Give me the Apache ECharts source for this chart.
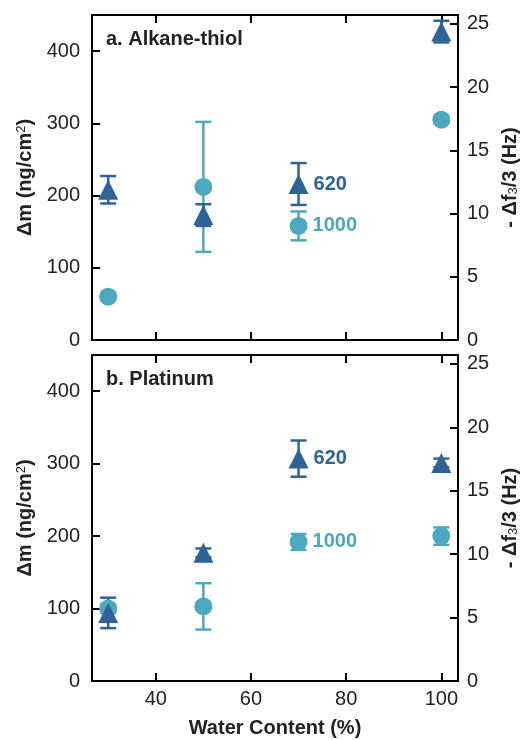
<!DOCTYPE html>
<html>
<head>
<meta charset="utf-8">
<script src="https://cdn.jsdelivr.net/npm/echarts@6/dist/echarts.min.js"></script>
<style>html,body{margin:0;padding:0;background:#fff}#c{width:531px;height:740px}</style>
</head>
<body>
<div id="c"></div>
<script>
// ---- data ----
const waterContent = [30, 50, 70, 100];
const seriesNames = ['620', '1000'];
const panelTitles = ['a. Alkane-thiol', 'b. Platinum'];
// panel a: Alkane-thiol
const a620 = [208, 173, 216, 427];
const a620Err = [19, 15, 29, 15];
const a1000 = [60, 212, 158, 305];
const a1000Err = [5, 90, 20, 5];
// panel b: Platinum
const b620 = [94, 177, 307, 301];
const b620Err = [21, 6, 25, 6];
const b1000 = [100, 103, 192, 200];
const b1000Err = [6, 32, 11, 12];
// axis ticks
const xTicks = [40, 60, 80, 100];
const massTicks = [0, 100, 200, 300, 400];
const freqTicks = [0, 5, 10, 15, 20, 25];
const xRange = [26.6, 103.5];
const massRange = [0, 450];
const freqRange = [0, 25.7];

const DARK = '#2e6399';
const LIGHT = '#4aa8bf';
const FONT = 'Liberation Sans, Arial, sans-serif';

const chart = echarts.init(document.getElementById('c'), null, {renderer: 'canvas'});

const grids = [
  {left: 92, top: 15, width: 366, height: 325},
  {left: 92, top: 355, width: 366, height: 326}
];

function xAxes(gi, isBottomPanel) {
  const common = {
    type: 'value', gridIndex: gi, min: xRange[0], max: xRange[1],
    splitLine: {show: false},
    axisLine: {show: true, onZero: false, lineStyle: {color: '#000', width: 2}},
    axisTick: {show: true, inside: true, length: 8, customValues: xTicks, lineStyle: {color: '#000', width: 2}},
  };
  return [
    Object.assign({}, common, {
      position: 'bottom',
      axisLabel: {show: isBottomPanel, customValues: xTicks, fontSize: 20, color: '#222', fontFamily: FONT, margin: 8},
      name: isBottomPanel ? 'Water Content (%)' : '',
      nameLocation: 'middle', nameGap: 37,
      nameTextStyle: {fontSize: 20, fontWeight: 'bold', color: '#222', fontFamily: FONT}
    }),
    Object.assign({}, common, {position: 'top', axisLabel: {show: false}})
  ];
}

function yAxes(gi) {
  return [
    {
      type: 'value', gridIndex: gi, position: 'left', min: massRange[0], max: massRange[1],
      splitLine: {show: false},
      axisLine: {show: true, onZero: false, lineStyle: {color: '#000', width: 2}},
      axisTick: {show: true, inside: true, length: 8, customValues: massTicks, lineStyle: {color: '#000', width: 2}},
      axisLabel: {customValues: massTicks, fontSize: 20, color: '#222', fontFamily: FONT, margin: 12},
      name: 'Δm (ng/cm{sup|2})', nameLocation: 'middle', nameGap: 56, nameRotate: 90,
      nameTextStyle: {fontSize: 20, fontWeight: 'bold', color: '#222', fontFamily: FONT,
        rich: {sup: {fontSize: 13, fontWeight: 'normal', color: '#222', fontFamily: FONT, verticalAlign: 'top', padding: [0, 0, 8, 0]}}}
    },
    {
      type: 'value', gridIndex: gi, position: 'right', min: freqRange[0], max: freqRange[1],
      splitLine: {show: false},
      axisLine: {show: true, onZero: false, lineStyle: {color: '#000', width: 2}},
      axisTick: {show: true, inside: true, length: 8, customValues: freqTicks, lineStyle: {color: '#000', width: 2}},
      axisLabel: {customValues: freqTicks, fontSize: 20, color: '#222', fontFamily: FONT, margin: 9},
      name: '- Δf{sub|3}/3 (Hz)', nameLocation: 'middle', nameGap: 42, nameRotate: 90,
      nameTextStyle: {fontSize: 20, fontWeight: 'bold', color: '#222', fontFamily: FONT,
        rich: {sub: {fontSize: 13, fontWeight: 'normal', color: '#222', fontFamily: FONT, verticalAlign: 'bottom', padding: [6, 0, 0, 0]}}}
    }
  ];
}

function errSeries(gi, vals, errs, color, z) {
  return {
    type: 'custom', xAxisIndex: gi * 2, yAxisIndex: gi * 2, z: z, silent: true,
    data: waterContent.map((x, i) => [x, vals[i], errs[i]]),
    encode: {x: 0, y: 1},
    renderItem: function (params, api) {
      const x = api.value(0), y = api.value(1), e = api.value(2);
      const top = api.coord([x, y + e]);
      const bot = api.coord([x, y - e]);
      const hw = 8;
      const st = {stroke: color, lineWidth: 2.5};
      return {
        type: 'group',
        children: [
          {type: 'line', shape: {x1: top[0], y1: top[1], x2: bot[0], y2: bot[1]}, style: st},
          {type: 'line', shape: {x1: top[0] - hw, y1: top[1], x2: top[0] + hw, y2: top[1]}, style: st},
          {type: 'line', shape: {x1: bot[0] - hw, y1: bot[1], x2: bot[0] + hw, y2: bot[1]}, style: st}
        ]
      };
    }
  };
}

function markerSeries(gi, vals, name, color, symbol, size, z) {
  return {
    type: 'scatter', name: name, xAxisIndex: gi * 2, yAxisIndex: gi * 2, z: z,
    symbol: symbol, symbolSize: size,
    itemStyle: {color: color, opacity: 1},
    data: waterContent.map((x, i) => {
      const d = {value: [x, vals[i]]};
      if (x === 70) {
        d.label = {show: true, position: 'right', distance: 5, formatter: '{a}', color: color,
          fontSize: 20, fontWeight: 'bold', fontFamily: FONT};
      }
      return d;
    })
  };
}

const series = [];
[[a620, a620Err, a1000, a1000Err], [b620, b620Err, b1000, b1000Err]].forEach((p, gi) => {
  series.push(errSeries(gi, p[2], p[3], LIGHT, 2));
  series.push(errSeries(gi, p[0], p[1], DARK, 3));
  series.push(markerSeries(gi, p[2], seriesNames[1], LIGHT, 'circle', 18, 4));
  series.push(markerSeries(gi, p[0], seriesNames[0], DARK, 'triangle', [20, 20], 5));
});

chart.setOption({
  animation: false,
  backgroundColor: '#fff',
  textStyle: {fontFamily: FONT},
  title: [
    {text: panelTitles[0], left: 106, top: 29, padding: 0, textStyle: {fontSize: 20, fontWeight: 'bold', color: '#222', fontFamily: FONT}},
    {text: panelTitles[1], left: 106, top: 369, padding: 0, textStyle: {fontSize: 20, fontWeight: 'bold', color: '#222', fontFamily: FONT}}
  ],
  grid: grids,
  xAxis: [].concat(xAxes(0, false), xAxes(1, true)),
  yAxis: [].concat(yAxes(0), yAxes(1)),
  series: series
});
</script>
</body>
</html>
